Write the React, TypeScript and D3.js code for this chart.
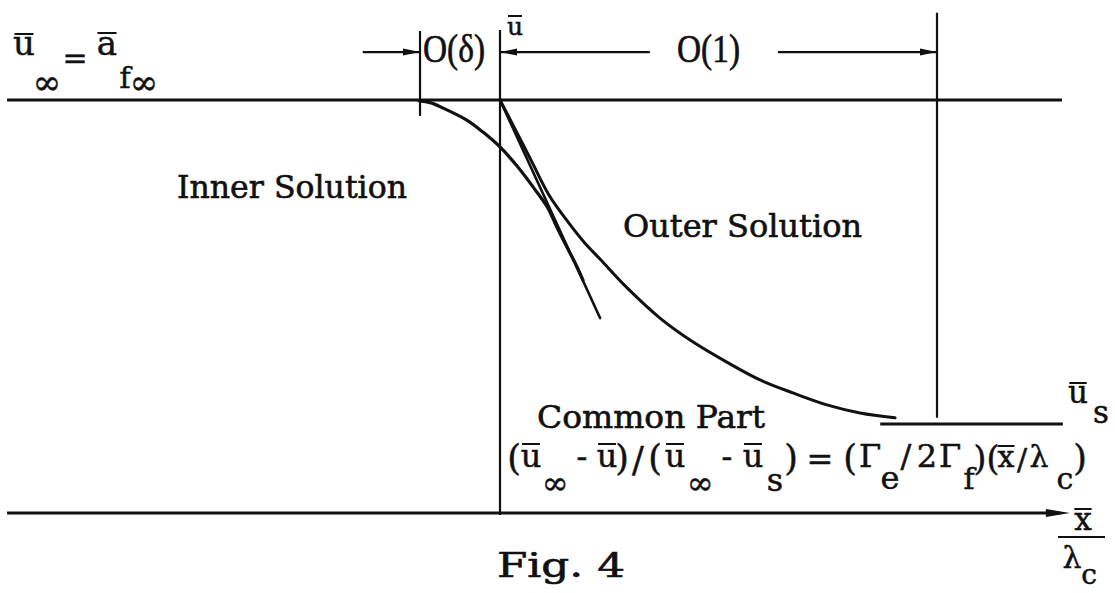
import React from "react";
import * as d3 from "d3";

// ---------- data (x = x̄/λc, u = (ū - ūs)/(ū∞ - ūs)) ----------
const innerSolution: [number, number][] = [
  [-0.185, 0.997], [-0.16, 0.992], [-0.13, 0.975], [-0.076, 0.938], [-0.039, 0.901],
  [0, 0.855], [0.039, 0.796], [0.076, 0.731], [0.108, 0.67], [0.13, 0.608],
  [0.153, 0.546], [0.172, 0.497], [0.19, 0.444],
];
const outerSolution: [number, number][] = [
  [0, 1], [0.037, 0.904], [0.073, 0.809], [0.112, 0.707], [0.156, 0.623],
  [0.192, 0.562], [0.231, 0.506], [0.291, 0.42], [0.366, 0.327], [0.442, 0.253],
  [0.519, 0.191], [0.595, 0.136], [0.67, 0.096], [0.748, 0.059], [0.824, 0.034],
  [0.904, 0.019],
];
const commonPart: [number, number][] = [[0, 1], [0.229, 0.327]];
const uInfLine: [number, number][] = [[-1.128, 1], [1.286, 1]];
const uSLine: [number, number][] = [[0.87, 0], [1.288, 0]];
const axisU = -0.275;
const axisX: [number, number] = [-1.128, 1.304];
const delta = 0.183;
// vertical lines: x, uTop, uBottom
const verticals: [number, number, number][] = [
  [-delta, 1.213, 0.951],
  [0, 1.216, -0.281],
  [1, 1.269, 0.019],
];
// dimension arrows: from x, to x (head at "to"), level u
const dimArrows: [number, number, number][] = [
  [-0.314, -delta, 1.148],
  [0.343, 0, 1.148],
  [0.636, 1, 1.148],
];
const labels = ["Inner Solution", "Outer Solution", "Common Part", "Fig. 4", "O(δ)", "O(1)"];

// ---------- layout ----------
const W = 1115, H = 593;
const x = d3.scaleLinear().domain([0, 1]).range([500, 937]);
const y = d3.scaleLinear().domain([0, 1]).range([424, 100]);
const INK = "#111";
const FONT = "DejaVu Serif";

type G = { t: string; cx: number; b: number; bar?: number; fs?: number };
const formula: G[] = [
  { t: "(", cx: 514, b: 470, fs: 35 }, { t: "u", cx: 531, b: 467, bar: 444 }, { t: "∞", cx: 555, b: 494 },
  { t: "-", cx: 582, b: 467 }, { t: "u", cx: 607, b: 467, bar: 444 }, { t: ")", cx: 622, b: 470, fs: 35 },
  { t: "/", cx: 638, b: 472, fs: 35 }, { t: "(", cx: 655, b: 470, fs: 35 }, { t: "u", cx: 675, b: 467, bar: 444 },
  { t: "∞", cx: 700, b: 494 }, { t: "-", cx: 727, b: 467 }, { t: "u", cx: 753, b: 467, bar: 444 },
  { t: "s", cx: 775, b: 491 }, { t: ")", cx: 791, b: 470, fs: 35 }, { t: "=", cx: 820, b: 470 },
  { t: "(", cx: 850, b: 470, fs: 35 }, { t: "Γ", cx: 870, b: 467 }, { t: "e", cx: 890, b: 489 },
  { t: "/", cx: 906, b: 467 }, { t: "2", cx: 927, b: 467 }, { t: "Γ", cx: 950, b: 467 },
  { t: "f", cx: 969, b: 489, fs: 30 }, { t: ")", cx: 980, b: 470, fs: 33 }, { t: "(", cx: 993, b: 470, fs: 33 },
  { t: "x", cx: 1006, b: 467, bar: 446, fs: 30 }, { t: "/", cx: 1022, b: 470, fs: 30 }, { t: "λ", cx: 1039, b: 467, fs: 30 },
  { t: "c", cx: 1065, b: 489, fs: 30 }, { t: ")", cx: 1080, b: 470, fs: 35 },
];
const topLeft: G[] = [
  { t: "u", cx: 24, b: 55, bar: 34, fs: 34 }, { t: "∞", cx: 47, b: 94, fs: 34 },
  { t: "=", cx: 75, b: 68, fs: 30 }, { t: "a", cx: 107, b: 55, bar: 33, fs: 34 },
  { t: "f", cx: 125, b: 88, fs: 30 }, { t: "∞", cx: 144, b: 94, fs: 34 },
];
const misc: G[] = [
  { t: "u", cx: 515, b: 35, bar: 16, fs: 25 },
  { t: "u", cx: 1078, b: 403, bar: 383, fs: 31 }, { t: "s", cx: 1101, b: 423, fs: 31 },
  { t: "x", cx: 1083, b: 530, bar: 509, fs: 31 }, { t: "λ", cx: 1072, b: 568, fs: 30 },
  { t: "c", cx: 1089, b: 584, fs: 28 },
];

function Glyphs({ items, fs }: { items: G[]; fs: number }) {
  return (
    <g>
      {items.map((g, i) => {
        const size = g.fs ?? fs;
        const hw = size * 0.28;
        return (
          <g key={i}>
            <text x={g.cx} y={g.b} textAnchor="middle" fontFamily={FONT} fontSize={size} fill={INK}
              stroke={INK} strokeWidth={0.5}>
              {g.t}
            </text>
            {g.bar !== undefined && (
              <line x1={g.cx - hw} x2={g.cx + hw} y1={g.bar} y2={g.bar} stroke={INK} strokeWidth={2} />
            )}
          </g>
        );
      })}
    </g>
  );
}

function head(xe: number, ye: number, dir: number, len = 17, half = 3.5) {
  return `M${xe},${ye}L${xe - dir * len},${ye - half}L${xe - dir * len},${ye + half}Z`;
}

export default function App() {
  const line = d3.line<[number, number]>().x((d) => x(d[0])).y((d) => y(d[1]));
  const curve = d3
    .line<[number, number]>()
    .x((d) => x(d[0]))
    .y((d) => y(d[1]))
    .curve(d3.curveCatmullRom.alpha(0.5));

  const axY = y(axisU);
  const lab = (i: number, px: number, py: number, len: number, fs = 32, fam = FONT) => (
    <text x={px} y={py} fontFamily={fam} fontSize={fs} fill={INK} stroke={INK} strokeWidth={0.6}
      textLength={len} lengthAdjust="spacingAndGlyphs">
      {labels[i]}
    </text>
  );
  return (
    <svg width={W} height={H} style={{ position: "absolute", left: 0, top: 0, background: "#fff" }}>
      <rect width={W} height={H} fill="#fff" />
      {/* u∞ line */}
      <path d={line(uInfLine)!} stroke={INK} strokeWidth={3} fill="none" />
      {/* bottom axis */}
      <line x1={x(axisX[0])} x2={x(axisX[1]) - 10} y1={axY} y2={axY} stroke={INK} strokeWidth={3} />
      <path d={head(x(axisX[1]), axY, 1, 24, 4)} fill={INK} />
      {/* verticals */}
      {verticals.map((v, i) => (
        <line key={i} x1={x(v[0])} x2={x(v[0])} y1={y(v[1])} y2={y(v[2])} stroke={INK} strokeWidth={2.2} />
      ))}
      {/* dimension arrows */}
      {dimArrows.map((a, i) => {
        const dir = a[1] > a[0] ? 1 : -1;
        return (
          <g key={i}>
            <line x1={x(a[0])} x2={x(a[1])} y1={y(a[2])} y2={y(a[2])} stroke={INK} strokeWidth={2.2} />
            <path d={head(x(a[1]), y(a[2]), dir)} fill={INK} />
          </g>
        );
      })}
      {/* curves */}
      <path d={curve(innerSolution)!} stroke={INK} strokeWidth={3.2} fill="none" strokeLinecap="round" />
      <path d={curve(outerSolution)!} stroke={INK} strokeWidth={3} fill="none" strokeLinecap="round" />
      <path d={line(commonPart)!} stroke={INK} strokeWidth={2.6} fill="none" strokeLinecap="round" />
      <path d={line(uSLine)!} stroke={INK} strokeWidth={3} fill="none" />

      {/* labels */}
      {lab(0, 177, 198, 230)}
      {lab(1, 623, 237, 239)}
      {lab(2, 537, 428, 228)}
      {lab(3, 497, 577, 128, 33)}
      {lab(4, 423, 62, 62, 39, "Liberation Serif")}
      {lab(5, 677, 62, 63, 39, "Liberation Serif")}

      <Glyphs items={formula} fs={32} />
      <Glyphs items={topLeft} fs={34} />
      <Glyphs items={misc} fs={31} />
      {/* fraction bar of x̄/λc */}
      <line x1={1058} x2={1105} y1={537} y2={537} stroke={INK} strokeWidth={2} />
    </svg>
  );
}
